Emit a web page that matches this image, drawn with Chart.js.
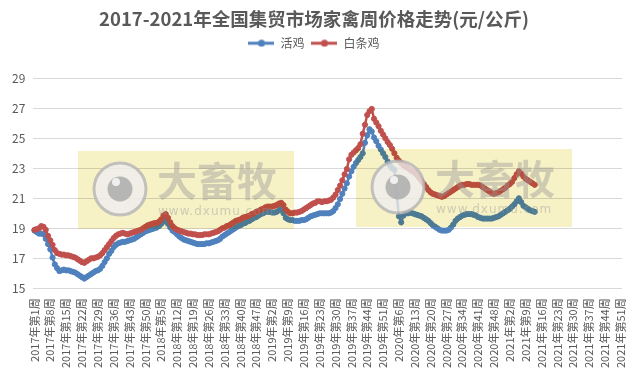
<!DOCTYPE html>
<html>
<head>
<meta charset="utf-8">
<script src="https://cdn.jsdelivr.net/npm/chart.js@4.4.0/dist/chart.umd.min.js"></script>
<style>
  body { margin: 0; background: #fff; }
  #wrap { width: 636px; height: 374px; }
</style>
</head>
<body>
<div id="wrap"><canvas id="chart" width="636" height="374"></canvas></div>
<script>
const title = '2017-2021年全国集贸市场家禽周价格走势(元/公斤)';
const years = [2017, 2018, 2019, 2020, 2021];
const weeksInYear = [52, 52, 52, 53, 51];
const seriesNames = ['活鸡', '白条鸡'];

// 活鸡 weekly price, 2017W1 .. 2021W13
const liveChicken = [
    18.85, 18.75, 18.65, 18.65, 18.6, 18.3, 17.95, 17.6, 17.05, 16.6, 16.35, 16.15, 16.2,
    16.25, 16.2, 16.2, 16.15, 16.1, 16.05, 15.95, 15.85, 15.75, 15.65, 15.75, 15.85, 15.95,
    16.05, 16.15, 16.2, 16.3, 16.5, 16.75, 17.0, 17.3, 17.5, 17.75, 17.9, 18.0, 18.05,
    18.1, 18.1, 18.15, 18.2, 18.25, 18.3, 18.4, 18.5, 18.6, 18.7, 18.8, 18.85, 18.9,
    // 2018
    18.95, 19.0, 19.05, 19.15, 19.3, 19.45, 19.55, 19.3, 19.05, 18.85, 18.75, 18.6, 18.45,
    18.35, 18.25, 18.2, 18.15, 18.1, 18.05, 18.0, 17.95, 17.95, 17.95, 17.95, 18.0, 18.0,
    18.05, 18.1, 18.15, 18.2, 18.3, 18.45, 18.55, 18.65, 18.75, 18.85, 18.95, 19.05, 19.15,
    19.2, 19.3, 19.35, 19.45, 19.5, 19.6, 19.7, 19.75, 19.85, 19.95, 20.0, 20.1, 20.1,
    // 2019
    20.1, 20.05, 20.05, 20.1, 20.2, 20.3, 20.0, 19.7, 19.6, 19.55, 19.55, 19.5, 19.5,
    19.5, 19.55, 19.55, 19.6, 19.7, 19.8, 19.85, 19.9, 19.95, 20.0, 20.0, 20.0, 20.0,
    20.0, 20.05, 20.15, 20.35, 20.6, 20.95, 21.3, 21.65, 22.0, 22.45, 22.8, 23.1, 23.35,
    23.55, 23.75, 24.0, 24.7, 25.2, 25.6, 25.45, 25.05, 24.8, 24.5, 24.25, 24.0, 23.75,
    // 2020
    23.45, 23.2, 23.0, 22.9, 21.3, 19.8, 19.4, 19.85, 20.0, 20.0, 20.05, 20.0, 19.95,
    19.9, 19.85, 19.8, 19.7, 19.6, 19.5, 19.35, 19.2, 19.1, 19.0, 18.9, 18.85, 18.85,
    18.85, 18.9, 19.05, 19.25, 19.5, 19.65, 19.75, 19.85, 19.9, 19.95, 19.95, 19.95, 19.9,
    19.85, 19.75, 19.7, 19.65, 19.65, 19.65, 19.65, 19.65, 19.7, 19.75, 19.8, 19.9, 20.0,
    20.1,
    // 2021
    20.2, 20.3, 20.45, 20.6, 20.8, 21.0, 20.75, 20.5, 20.4, 20.3, 20.2, 20.15, 20.1
];

// 白条鸡 weekly price, 2017W1 .. 2021W13
const dressedChicken = [
    18.9, 18.95, 19.0, 19.15, 19.1, 18.9, 18.5, 18.2, 17.9, 17.55, 17.35, 17.3, 17.25,
    17.25, 17.2, 17.2, 17.15, 17.1, 17.05, 16.95, 16.85, 16.75, 16.7, 16.8, 16.9, 17.0,
    17.0, 17.05, 17.1, 17.2, 17.35, 17.55, 17.75, 17.95, 18.15, 18.35, 18.5, 18.6, 18.65,
    18.7, 18.65, 18.6, 18.65, 18.7, 18.75, 18.8, 18.85, 18.9, 19.0, 19.1, 19.2, 19.25,
    // 2018
    19.3, 19.35, 19.35, 19.45, 19.6, 19.85, 19.95, 19.7, 19.4, 19.15, 19.0, 18.9, 18.85,
    18.8, 18.75, 18.7, 18.65, 18.65, 18.6, 18.6, 18.55, 18.55, 18.55, 18.6, 18.6, 18.6,
    18.65, 18.7, 18.75, 18.8, 18.9, 19.0, 19.05, 19.15, 19.2, 19.3, 19.4, 19.5, 19.55,
    19.6, 19.7, 19.75, 19.8, 19.85, 19.95, 20.0, 20.1, 20.15, 20.25, 20.3, 20.4, 20.45,
    // 2019
    20.45, 20.45, 20.5, 20.55, 20.65, 20.7, 20.55, 20.25, 20.1, 20.0, 20.0, 20.05, 20.05,
    20.1, 20.15, 20.25, 20.35, 20.45, 20.55, 20.65, 20.7, 20.8, 20.8, 20.75, 20.8, 20.8,
    20.85, 20.9, 21.05, 21.25, 21.55, 21.85, 22.2, 22.6, 22.95, 23.6, 23.9, 24.05, 24.2,
    24.35, 24.6, 25.3, 25.9, 26.55, 26.8, 26.95, 26.3, 26.05, 25.8, 25.5, 25.25, 25.0,
    // 2020
    24.75, 24.55, 24.3, 24.0, 23.7, 23.5, 23.35, 23.2, 23.1, 23.0, 22.9, 22.8, 22.7,
    22.55, 22.35, 22.15, 21.95, 21.75, 21.55, 21.4, 21.3, 21.25, 21.2, 21.15, 21.1, 21.15,
    21.25, 21.35, 21.45, 21.55, 21.65, 21.75, 21.85, 21.9, 21.9, 21.95, 21.95, 21.9, 21.9,
    21.9, 21.9, 21.85, 21.75, 21.65, 21.55, 21.45, 21.35, 21.3, 21.35, 21.4, 21.5, 21.6,
    21.7,
    // 2021
    21.85, 21.95, 22.1, 22.35, 22.6, 22.8, 22.65, 22.45, 22.3, 22.2, 22.1, 22.0, 21.9
];

const yTicks = [15, 17, 19, 21, 23, 25, 27, 29];
const labelEvery = 7;

const blue = '#4f81bd';
const red = '#c0504d';
const textGray = '#595959';

const weekLabels = [];
years.forEach((y, k) => {
    for (let w = 1; w <= weeksInYear[k]; w++) weekLabels.push(y + '年第' + w + '周');
});

// legend marker: a short line with a dot on it
function legendIcon(color) {
    const c = document.createElement('canvas');
    c.width = 26; c.height = 8;
    const g = c.getContext('2d');
    g.strokeStyle = color;
    g.lineWidth = 3;
    g.beginPath(); g.moveTo(0, 4); g.lineTo(26, 4); g.stroke();
    g.fillStyle = color;
    g.beginPath(); g.arc(13, 4, 3.5, 0, Math.PI * 2); g.fill();
    return c;
}
const icons = [legendIcon(blue), legendIcon(red)];

// watermark boxes (tinted yellow over the plot)
function drawStamp(ctx, x, y) {
    ctx.save();
    ctx.globalCompositeOperation = 'multiply';
    ctx.fillStyle = '#f7f1c6';
    ctx.fillRect(x, y, 216, 78);
    ctx.globalCompositeOperation = 'source-over';
    const cx = x + 42, cy = y + 38;
    ctx.fillStyle = 'rgba(238,238,238,0.8)';
    ctx.beginPath(); ctx.arc(cx, cy, 26, 0, Math.PI * 2); ctx.fill();
    ctx.strokeStyle = 'rgba(180,180,180,0.8)';
    ctx.lineWidth = 3;
    ctx.stroke();
    ctx.fillStyle = 'rgba(175,175,175,0.9)';
    ctx.beginPath(); ctx.arc(cx, cy, 12.5, 0, Math.PI * 2); ctx.fill();
    ctx.fillStyle = 'rgba(245,245,245,0.9)';
    ctx.beginPath(); ctx.arc(cx - 4, cy - 7, 4, 0, Math.PI * 2); ctx.fill();
    ctx.fillStyle = 'rgba(150,150,150,0.42)';
    ctx.font = 'bold 40px "Noto Sans CJK SC"';
    ctx.textBaseline = 'top';
    ctx.fillText('大畜牧', x + 79, y + 10);
    ctx.font = '12px "DejaVu Sans"';
    ctx.letterSpacing = '1px';
    ctx.fillText('www.dxumu.com', x + 80, y + 55);
    ctx.restore();
}

const stampPlugin = {
    id: 'stamps',
    afterDatasetsDraw(chart) {
        drawStamp(chart.ctx, 78, 151);
        drawStamp(chart.ctx, 356, 149);
    }
};

const legendGap = {
    id: 'legendGap',
    beforeInit(chart) {
        const fit = chart.legend.fit;
        chart.legend.fit = function () {
            fit.bind(chart.legend)();
            this.height += 19;
        };
    }
};

const ctx = document.getElementById('chart').getContext('2d');
const myChart = new Chart(ctx, {
    type: 'line',
    data: {
        labels: weekLabels,
        datasets: [{
            label: seriesNames[0],
            data: liveChicken,
            borderColor: blue,
            backgroundColor: blue,
            borderWidth: 2.5,
            pointRadius: 2.6,
            pointBorderWidth: 1,
            pointBackgroundColor: blue,
            tension: 0,
            order: 2
        }, {
            label: seriesNames[1],
            data: dressedChicken,
            borderColor: red,
            backgroundColor: red,
            borderWidth: 2.5,
            pointRadius: 2.6,
            pointBorderWidth: 1,
            pointBackgroundColor: red,
            tension: 0,
            order: 1
        }]
    },
    options: {
        responsive: false,
        animation: false,
        layout: { padding: { left: 4, right: 12, top: 4, bottom: 4 } },
        plugins: {
            title: {
                display: true,
                text: title,
                color: textGray,
                font: { family: '"Noto Sans CJK SC"', size: 18.5, weight: 'bold' },
                padding: { top: 4, bottom: 0 }
            },
            legend: {
                labels: {
                    color: textGray,
                    font: { family: '"Noto Sans CJK SC"', size: 12 },
                    usePointStyle: true,
                    pointStyleWidth: 26,
                    padding: 7,
                    generateLabels() {
                        return seriesNames.map((n, i) => ({
                            text: n,
                            fontColor: textGray,
                            pointStyle: icons[i],
                            datasetIndex: i,
                            hidden: false,
                            lineWidth: 0,
                            strokeStyle: 'transparent',
                            fillStyle: 'transparent'
                        }));
                    }
                }
            },
            tooltip: { enabled: false }
        },
        scales: {
            x: {
                offset: true,
                grid: { display: false },
                border: { display: false },
                ticks: {
                    autoSkip: false,
                    minRotation: 90,
                    maxRotation: 90,
                    color: textGray,
                    padding: 2,
                    font: { family: '"Noto Sans CJK SC"', size: 11 },
                    callback: (v, i) => i % labelEvery === 0 ? weekLabels[i] : ''
                }
            },
            y: {
                min: yTicks[0],
                max: yTicks[yTicks.length - 1],
                afterBuildTicks: axis => { axis.ticks = yTicks.map(v => ({ value: v })); },
                grid: { color: '#d9d9d9', drawTicks: false },
                border: { display: false },
                ticks: {
                    color: textGray,
                    padding: 8,
                    font: { family: '"Noto Sans CJK SC"', size: 12 }
                }
            }
        }
    },
    plugins: [stampPlugin, legendGap]
});
</script>
</body>
</html>
